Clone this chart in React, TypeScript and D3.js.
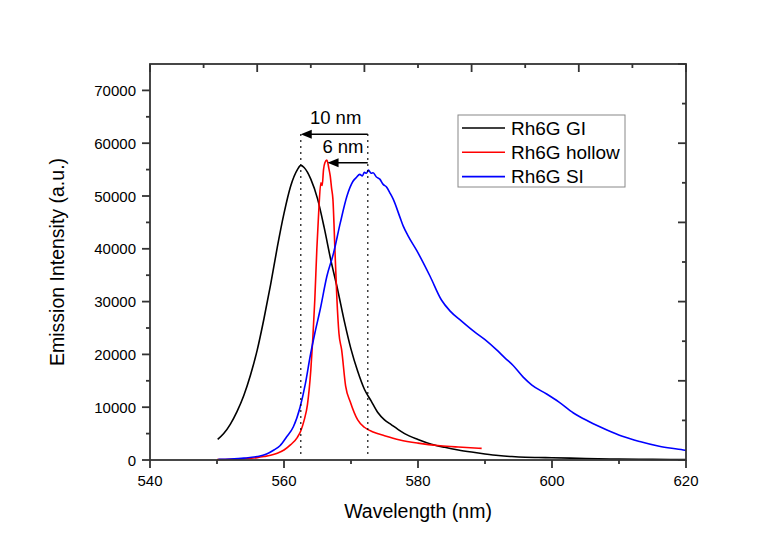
import React from "react";
import * as d3 from "d3";

// ---- data ----
const giWavelength = [550.1, 551, 552, 553, 554, 555, 556, 557, 558, 559, 560, 561, 562, 562.5, 563, 564, 565, 566, 567, 568, 569, 570, 571, 572, 573, 574, 575, 576, 577, 578, 580, 582, 584, 586, 588, 590, 592, 594, 596, 598, 600, 605, 610, 615, 620];
const giIntensity = [3900, 5000, 6800, 9200, 12200, 16100, 20800, 26700, 33200, 40300, 46700, 51900, 55000, 55800, 55400, 53200, 49500, 44000, 37800, 32300, 26300, 21000, 16800, 13400, 11200, 9000, 7600, 6700, 5800, 5000, 3900, 3000, 2400, 1900, 1500, 1150, 850, 650, 520, 470, 430, 280, 180, 120, 80];

const hollowWavelength = [550, 552, 554, 556, 557, 558, 559, 560, 561, 562, 562.5, 563, 563.5, 564, 564.3, 564.6, 564.9, 565.2, 565.5, 565.7, 565.9, 566.1, 566.4, 566.7, 566.9, 567.1, 567.3, 567.6, 567.9, 568.2, 568.6, 569.2, 569.9, 571, 572, 573.3, 575, 577.3, 580, 583.3, 586, 589.5];
const hollowIntensity = [100, 150, 250, 450, 650, 900, 1300, 1900, 2900, 4300, 5500, 7500, 10500, 17000, 23000, 30400, 39900, 47500, 52500, 52000, 55000, 56300, 56800, 55200, 53800, 51500, 49400, 39900, 30400, 24000, 20900, 14000, 11000, 7600, 6200, 5300, 4600, 3800, 3200, 2700, 2450, 2200];

const siWavelength = [550.2, 552, 554, 556, 557.4, 558.5, 559.4, 560.4, 561.4, 562.4, 563.2, 563.9, 564.6, 565.4, 566.4, 567.4, 568.4, 569.4, 570.3, 570.8, 571.3, 571.7, 572, 572.3, 572.6, 573, 573.3, 573.8, 574.3, 574.8, 575.3, 575.8, 576.3, 577.3, 577.8, 578.5, 579.8, 581.8, 583.5, 584.8, 586.5, 588.3, 590, 591.7, 593, 594.2, 595.7, 597, 599.2, 601, 603.2, 605.5, 608.2, 610.5, 613.1, 616, 619.6, 620];
const siIntensity = [130, 200, 350, 650, 1140, 1900, 2700, 4400, 6300, 10000, 14500, 19600, 24000, 28500, 34800, 39200, 44900, 50000, 52800, 53500, 54100, 53800, 54500, 54300, 54900, 54300, 54400, 53600, 53200, 52200, 51700, 50600, 49400, 46000, 44300, 42500, 39700, 34800, 30300, 28200, 26300, 24400, 22800, 20900, 19300, 17900, 15700, 14200, 12500, 11000, 8900, 7300, 5700, 4500, 3500, 2600, 1900, 1800];

const seriesNames = ["Rh6G GI", "Rh6G hollow", "Rh6G SI"];
const seriesColors = ["#000000", "#ff0000", "#0000ff"];

const xMajorTicks = [540, 560, 580, 600, 620];
const xMinorTicks = [550, 570, 590, 610];
const yMajorTicks = [0, 10000, 20000, 30000, 40000, 50000, 60000, 70000];
const yMinorTicks = [5000, 15000, 25000, 35000, 45000, 55000, 65000];
const mirrorTicks = [0, 1, 2, 3, 4, 5, 6, 7, 8, 9, 10];

const peakGI = 562.5;
const peakHollow = 566.5;
const peakSI = 572.5;
const shiftLabels = ["10 nm", "6 nm"];

export default function App() {
  const W = 779, H = 541;
  const left = 150, right = 686, top = 64, bottom = 460;
  const x = d3.scaleLinear().domain([540, 620]).range([left, right]);
  const y = d3.scaleLinear().domain([0, 75000]).range([bottom, top]);
  const xm = d3.scaleLinear().domain([0, 10]).range([left, right]);
  const ym = d3.scaleLinear().domain([0, 10]).range([bottom, top]);

  const line = d3.line<[number, number]>().x(d => x(d[0])).y(d => y(d[1])).curve(d3.curveMonotoneX);
  const series = [
    d3.zip(giWavelength, giIntensity) as [number, number][],
    d3.zip(hollowWavelength, hollowIntensity) as [number, number][],
    d3.zip(siWavelength, siIntensity) as [number, number][],
  ];

  const axisColor = "#333";
  const font = "Arial, 'Liberation Sans', sans-serif";

  const arrow = (from: number, to: number, yv: number) => {
    const x1 = x(from), x2 = x(to), yy = y(yv);
    return (
      <g>
        <line x1={x1} y1={yy} x2={x2 + 8} y2={yy} stroke="#000" strokeWidth={1.5} />
        <path d={`M${x2},${yy} L${x2 + 11},${yy - 4.5} L${x2 + 11},${yy + 4.5} Z`} fill="#000" />
      </g>
    );
  };

  return (
    <svg width={W} height={H} style={{ position: "absolute", left: 0, top: 0, background: "#fff" }} fontFamily={font}>
      <rect x={0} y={0} width={W} height={H} fill="#fff" />
      {/* curves */}
      {series.map((s, i) => (
        <path key={i} d={line(s) || ""} fill="none" stroke={seriesColors[i]} strokeWidth={1.6} />
      ))}
      {/* dotted guide lines */}
      {[peakGI, peakSI].map((p, i) => (
        <line key={i} x1={x(p)} x2={x(p)} y1={y(61700)} y2={y(1000)} stroke="#000" strokeWidth={1.5} strokeDasharray="1.5,4.5" />
      ))}
      {arrow(peakSI, peakGI, 61700)}
      {arrow(peakSI, peakHollow, 56300)}
      <text x={x(567.7)} y={y(63700)} fontSize={18.5} textAnchor="middle" fill="#000">{shiftLabels[0]}</text>
      <text x={x(568.8)} y={y(58200)} fontSize={18.5} textAnchor="middle" fill="#000">{shiftLabels[1]}</text>

      {/* frame */}
      <rect x={left} y={top} width={right - left} height={bottom - top} fill="none" stroke={axisColor} strokeWidth={1.8} />
      {/* bottom axis */}
      {xMajorTicks.map(t => (
        <g key={"xb" + t}>
          <line x1={x(t)} x2={x(t)} y1={bottom} y2={bottom + 8} stroke={axisColor} strokeWidth={1.8} />
          <text x={x(t)} y={bottom + 26} fontSize={15} textAnchor="middle" fill="#000">{t}</text>
        </g>
      ))}
      {xMinorTicks.map(t => (
        <line key={"xm" + t} x1={x(t)} x2={x(t)} y1={bottom} y2={bottom + 4} stroke={axisColor} strokeWidth={1.8} />
      ))}
      {/* left axis */}
      {yMajorTicks.map(t => (
        <g key={"yl" + t}>
          <line x1={left - 8} x2={left} y1={y(t)} y2={y(t)} stroke={axisColor} strokeWidth={1.8} />
          <text x={left - 14} y={y(t) + 5.5} fontSize={15} textAnchor="end" fill="#000">{t}</text>
        </g>
      ))}
      {yMinorTicks.map(t => (
        <line key={"ym" + t} x1={left - 4} x2={left} y1={y(t)} y2={y(t)} stroke={axisColor} strokeWidth={1.8} />
      ))}
      {/* top & right mirror axes */}
      {mirrorTicks.map(t => (
        <g key={"m" + t}>
          <line x1={xm(t)} x2={xm(t)} y1={top} y2={top + (t % 2 === 0 ? 8 : 4)} stroke={axisColor} strokeWidth={1.8} />
          <line x1={right - (t % 2 === 0 ? 8 : 4)} x2={right} y1={ym(t)} y2={ym(t)} stroke={axisColor} strokeWidth={1.8} />
        </g>
      ))}
      {/* axis titles */}
      <text x={(left + right) / 2} y={518} fontSize={19.5} textAnchor="middle" fill="#000">Wavelength (nm)</text>
      <text transform={`translate(64, ${(top + bottom) / 2}) rotate(-90)`} fontSize={19.5} textAnchor="middle" fill="#000">Emission Intensity (a.u.)</text>

      {/* legend */}
      <rect x={458} y={115} width={167} height={72} fill="#fff" stroke="#888" strokeWidth={1} />
      {seriesNames.map((n, i) => (
        <g key={n}>
          <line x1={462} x2={505} y1={128 + i * 24.3} y2={128 + i * 24.3} stroke={seriesColors[i]} strokeWidth={1.6} />
          <text x={511} y={128 + i * 24.3 + 6.5} fontSize={19} fill="#000">{n}</text>
        </g>
      ))}
    </svg>
  );
}
